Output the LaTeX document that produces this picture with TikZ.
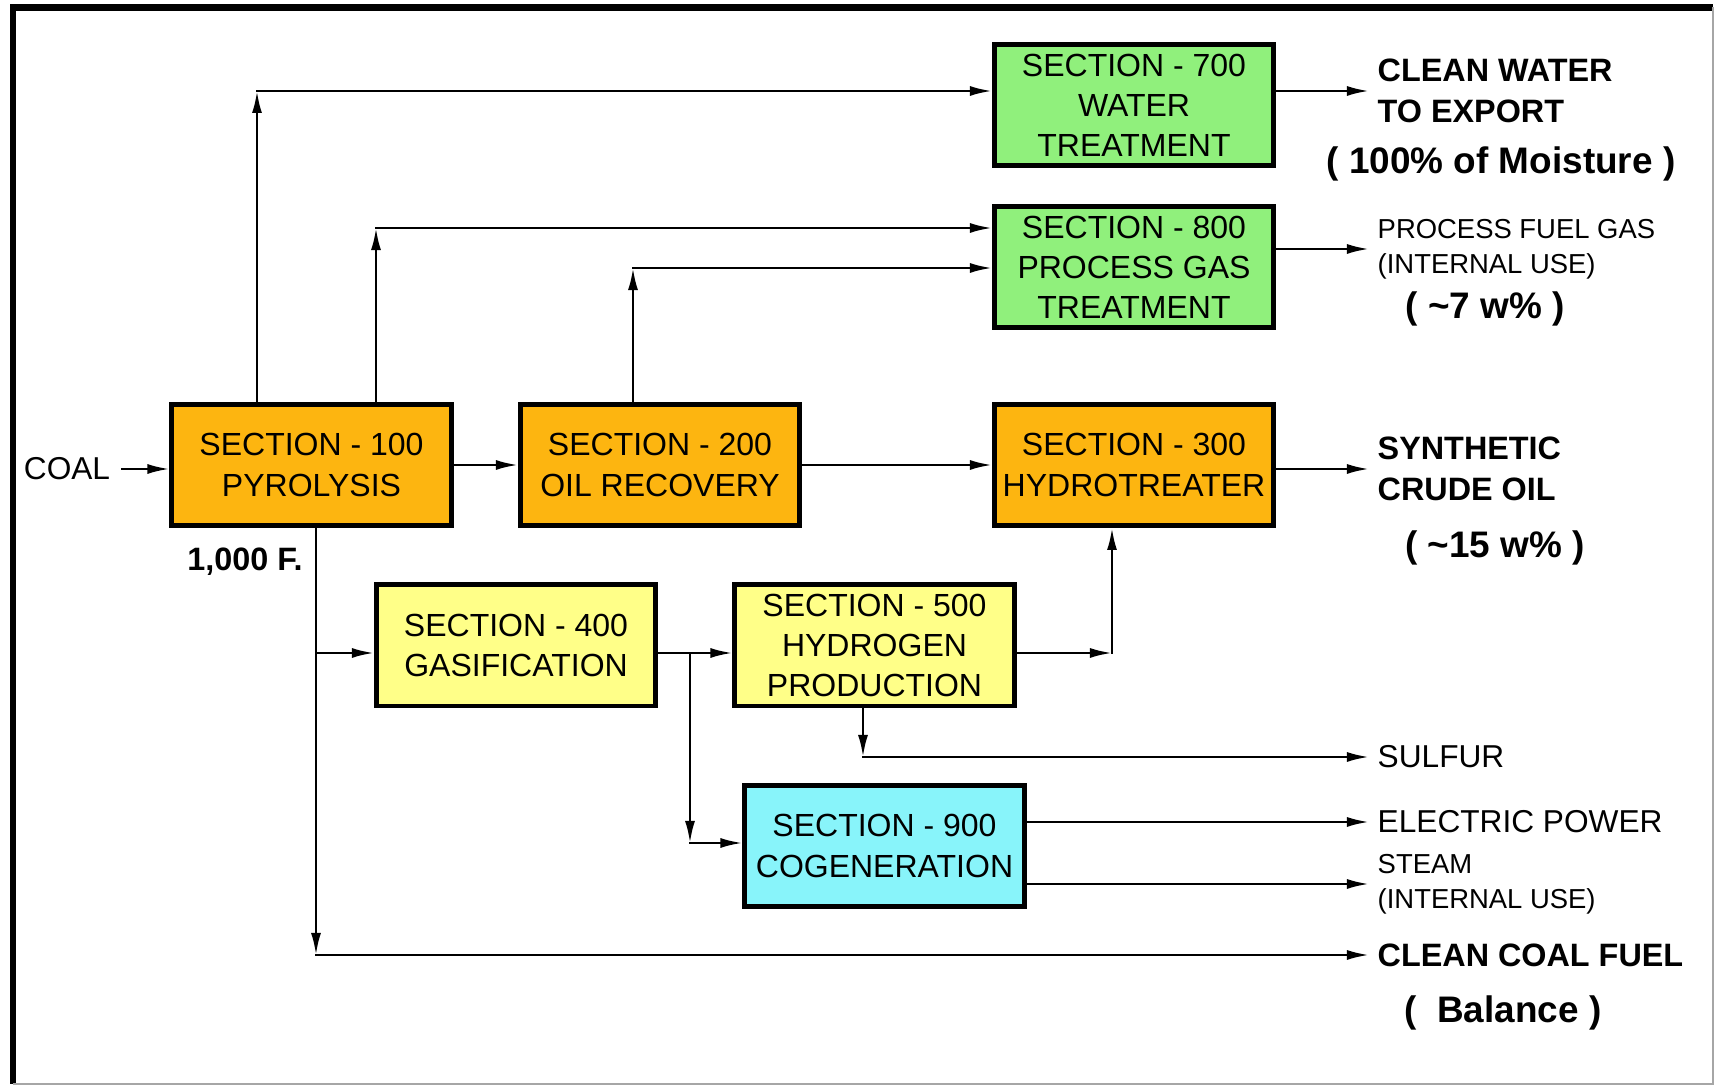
\documentclass[tikz,border=0pt]{standalone}
\usepackage{fontspec}
\setmainfont{Liberation Sans}
\usetikzlibrary{arrows.meta}

\definecolor{pyroorange}{HTML}{FDB510}
\definecolor{gasyellow}{HTML}{FFFF88}
\definecolor{treatgreen}{HTML}{90F07C}
\definecolor{cogencyan}{HTML}{88F4FA}

\tikzset{
  section/.style={draw, line width=1.4pt, minimum width=2.79cm, minimum height=1.21cm,
    inner sep=0pt, align=center, font=\fontsize{9.1pt}{11.4pt}\selectfont},
  flow/.style={-{Latex[length=2.2mm,width=1mm]}, line width=0.7pt, line cap=rect},
  product/.style={anchor=west, inner xsep=0.08cm, inner ysep=0pt, align=left},
  boldtag/.style={font=\bfseries\fontsize{9.2pt}{11.5pt}\selectfont},
  plaintag/.style={font=\fontsize{9pt}{11pt}\selectfont},
  smalltag/.style={font=\fontsize{7.8pt}{10pt}\selectfont},
  share/.style={font=\bfseries\fontsize{10.5pt}{12pt}\selectfont}
}

\begin{document}
\begin{tikzpicture}[x=0.01cm, y=-0.01cm]
\useasboundingbox (0,0) rectangle (1717,1086);

% frame
\draw[line width=1.8pt] (13,1084) -- (13,7.5) -- (1713,7.5);
\draw[gray!70, line width=0.5pt] (1713,7.5) -- (1713,1084) -- (13,1084);

% sections
\node[section, fill=pyroorange] (s100) at (311.5,465) {SECTION - 100\\PYROLYSIS};
\node[section, fill=pyroorange] (s200) at (660,465) {SECTION - 200\\OIL RECOVERY};
\node[section, fill=pyroorange] (s300) at (1134,465) {SECTION - 300\\HYDROTREATER};
\node[section, fill=gasyellow] (s400) at (516,645.5) {SECTION - 400\\GASIFICATION};
\node[section, fill=gasyellow] (s500) at (874.5,645.5) {SECTION - 500\\HYDROGEN\\PRODUCTION};
\node[section, fill=treatgreen] (s700) at (1134,105) {SECTION - 700\\WATER\\TREATMENT};
\node[section, fill=treatgreen] (s800) at (1134,267) {SECTION - 800\\PROCESS GAS\\TREATMENT};
\node[section, fill=cogencyan] (s900) at (884.5,846) {SECTION - 900\\COGENERATION};

% feed and products
\node[plaintag] (coal) at (67,469) {COAL};
\node[boldtag] (temp) at (245,562) {1,000 F.};
\node[product, boldtag] (water) at (1369,91) {CLEAN WATER\\TO EXPORT};
\node[product, smalltag] (fuelgas) at (1369,249) {PROCESS FUEL GAS\\(INTERNAL USE)};
\node[product, boldtag] (oil) at (1369,469) {SYNTHETIC\\CRUDE OIL};
\node[product, plaintag] (sulfur) at (1369,757) {SULFUR};
\node[product, plaintag] (power) at (1369,822) {ELECTRIC POWER};
\node[product, smalltag] (steam) at (1369,884) {STEAM\\(INTERNAL USE)};
\node[product, boldtag] (coalfuel) at (1369,955) {CLEAN COAL FUEL};

% yields
\node[share] (moist) at (1501,164) {( 100\% of Moisture )};
\node[share] (gasyield) at (1485,309) {( \textasciitilde 7 w\% )};
\node[share] (oilyield) at (1495,547.5) {( \textasciitilde 15 w\% )};
\node[share] (balance) at (1503,1013) {(\ \ Balance )};

% main line
\draw[flow] (coal) -- (coal -| s100.west);
\draw[flow] (s100) -- (s200);
\draw[flow] (s200) -- (s300);
\draw[flow] (s300.east |- oil.west) -- (oil.west);

% water and gas to treatment
\coordinate (w1) at (257,91);
\draw[flow] (s100.north -| w1) -- (w1);
\draw[flow] (w1) -- (s700.west |- w1);
\coordinate (g1) at (376,228);
\draw[flow] (s100.north -| g1) -- (g1);
\draw[flow] (g1) -- (s800.west |- g1);
\coordinate (g2) at (633,268);
\draw[flow] (s200.north -| g2) -- (g2);
\draw[flow] (g2) -- (s800.west |- g2);
\draw[flow] (s700.east |- water.west) -- (water.west);
\draw[flow] (s800.east |- fuelgas.west) -- (fuelgas.west);

% char
\coordinate (c1) at (316,955);
\draw[flow] (s100.south -| c1) -- (c1);
\draw[flow] (c1) -- (coalfuel.west);
\coordinate (c2) at (316,653);
\draw[flow] (c2) -- (s400.west |- c2);

% gasification, hydrogen, cogeneration
\coordinate (h1) at (690,653);
\draw[flow] (s400.east |- h1) -- (s500.west |- h1);
\coordinate (h2) at (690,843);
\draw[flow] (h1) -- (h2);
\draw[flow] (h2) -- (s900.west |- h2);
\coordinate (h3) at (1112,653);
\draw[flow] (s500.east |- h3) -- (h3);
\draw[flow] (h3) -- (s300.south -| h3);
\coordinate (h4) at (863,757);
\draw[flow] (s500.south -| h4) -- (h4);
\draw[flow] (h4) -- (sulfur.west);
\draw[flow] (s900.east |- power.west) -- (power.west);
\draw[flow] (s900.east |- steam.west) -- (steam.west);

\end{tikzpicture}
\end{document}
